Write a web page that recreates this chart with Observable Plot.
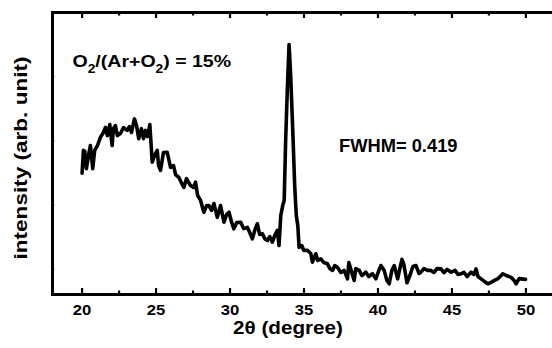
<!DOCTYPE html>
<html><head><meta charset="utf-8">
<script src="https://cdn.jsdelivr.net/npm/d3@7"></script>
<script src="https://cdn.jsdelivr.net/npm/@observablehq/plot@0.6"></script>
<style>body{margin:0;background:#fff} svg{display:block}</style>
</head><body><div id="chart"></div>
<script>
const twoTheta = [20.00,20.09,20.18,20.29,20.43,20.56,20.72,20.85,21.04,21.24,
21.44,21.58,21.71,21.87,22.03,22.12,22.25,22.39,22.59,22.80,
23.05,23.20,23.34,23.54,23.68,23.83,24.01,24.15,24.29,24.42,
24.58,24.74,24.90,25.08,25.17,25.30,25.50,25.75,25.98,26.18,
26.32,26.54,26.77,26.88,27.06,27.33,27.54,27.67,27.81,28.01,
28.23,28.42,28.57,28.75,28.91,29.14,29.36,29.59,29.77,29.93,
30.11,30.26,30.45,30.72,30.92,31.17,31.33,31.51,31.67,31.85,
32.00,32.19,32.34,32.53,32.68,32.86,33.02,33.20,33.31,33.43,
33.56,33.66,33.76,33.87,33.99,34.10,34.24,34.37,34.48,34.58,
34.67,34.85,34.98,35.23,35.46,35.57,35.80,35.93,36.13,36.34,
36.59,36.74,36.93,37.08,37.26,37.49,37.71,37.94,38.03,38.39,
38.50,38.73,38.91,39.18,39.38,39.63,39.86,40.06,40.20,40.42,
40.60,40.76,40.94,41.10,41.33,41.48,41.62,41.75,41.96,42.16,
42.36,42.57,42.77,42.90,43.11,43.36,43.58,43.79,43.99,44.26,
44.46,44.67,44.94,45.21,45.41,45.61,45.82,46.02,46.29,46.49,
46.63,46.76,46.97,47.17,47.42,47.60,47.87,48.12,48.44,48.66,
49.00,49.20,49.34,49.54,49.68,49.97];
const intensity = [373,462,459,391,442,481,391,462,481,513,
532,552,520,563,481,547,559,520,528,551,
540,555,532,585,559,508,547,508,540,516,
563,416,442,462,403,384,454,455,396,403,
368,357,329,318,352,325,317,338,286,267,
221,247,247,228,255,201,247,182,212,221,
181,156,181,182,157,162,142,117,150,176,
134,137,118,111,126,104,130,150,91,208,
247,267,501,696,875,754,540,325,208,169,
84,91,72,72,60,26,59,33,39,25,
20,1,-6,13,6,-14,-6,-39,25,-45,
1,-6,-26,-13,-30,-19,-39,-6,13,-6,
-45,-58,-6,13,-39,1,37,17,-54,-26,
9,13,-18,-13,1,-6,-6,-14,1,0,
-15,-2,-13,-6,-22,-19,-14,-30,-13,-22,
0,-30,-39,-48,-58,-54,-45,-38,-19,-26,
-33,-45,-58,-38,-39,-41];
const xMajorTicks = [20,25,30,35,40,45,50];
const xMinorTicks = [22.5,27.5,32.5,37.5,42.5,47.5];
const yTicks = [0,250,500,750];
const xDomain = [18,52];
const yDomain = [-100,1000];
const xLabel = "2θ (degree)";
const yLabel = "intensity (arb. unit)";
const fwhmText = "FWHM= 0.419";

const data = twoTheta.map((x,i)=>({x, y: intensity[i]}));
const unitsPerPx = (yDomain[1]-yDomain[0])/282;
const xUnitsPerPx = (xDomain[1]-xDomain[0])/503;
const font = "'Liberation Sans', Arial, sans-serif";

const plot = Plot.plot({
  width: 552, height: 348,
  marginLeft: 52, marginRight: -3, marginTop: 12, marginBottom: 54,
  x: {domain: xDomain},
  y: {domain: yDomain, axis: null},
  style: {fontFamily: font, background: "white", color: "black"},
  marks: [
    Plot.axisX(xMajorTicks, {anchor: "bottom", tickSize: 0, tickPadding: 10, fontSize: 15, fontWeight: "bold", label: null, fill: "black"}),
    Plot.ruleX(xMajorTicks, {y1: yDomain[0], y2: yDomain[0] + 6*unitsPerPx, strokeWidth: 2.2}),
    Plot.ruleX(xMajorTicks, {y1: yDomain[1], y2: yDomain[1] - 6*unitsPerPx, strokeWidth: 2.2}),
    Plot.ruleX(xMinorTicks, {y1: yDomain[0], y2: yDomain[0] + 3.5*unitsPerPx, strokeWidth: 2.2}),
    Plot.ruleX(xMinorTicks, {y1: yDomain[1], y2: yDomain[1] - 3.5*unitsPerPx, strokeWidth: 2.2}),
    Plot.ruleY(yTicks, {x1: xDomain[0], x2: xDomain[0] + 3*xUnitsPerPx, stroke: "#999", strokeWidth: 1}),
    Plot.line(data, {x: "x", y: "y", stroke: "black", strokeWidth: 3.6, strokeLinejoin: "round", strokeLinecap: "round"}),
    Plot.frame({stroke: "black", strokeWidth: 3})
  ]
});
document.getElementById("chart").append(plot);

const svg = d3.select(plot);
svg.selectAll('[aria-label="x-axis tick label"] text')
  .attr("textLength", 18.5).attr("lengthAdjust", "spacingAndGlyphs");
const bold = s => s.attr("font-family", font).attr("font-weight", "bold").attr("fill", "black");
svg.append("text").call(bold).attr("font-size", 18).attr("text-anchor", "middle")
  .attr("x", 288).attr("y", 334).attr("textLength", 110).attr("lengthAdjust", "spacingAndGlyphs").text(xLabel);
svg.append("text").call(bold).attr("font-size", 18).attr("text-anchor", "middle")
  .attr("transform", "translate(27,158) rotate(-90)").attr("textLength", 203).attr("lengthAdjust", "spacingAndGlyphs").text(yLabel);
const t = svg.append("text").call(bold).attr("font-size", 17).attr("text-anchor", "start")
  .attr("transform", "translate(72.5,66.5) scale(1.15,1)");
t.append("tspan").text("O");
t.append("tspan").attr("font-size", 12).attr("dy", 6).text("2");
t.append("tspan").attr("dy", -6).text("/(Ar+O");
t.append("tspan").attr("font-size", 12).attr("dy", 6).text("2");
t.append("tspan").attr("dy", -6).text(") = 15%");
svg.append("text").call(bold).attr("font-size", 17.5).attr("text-anchor", "start")
  .attr("x", 339).attr("y", 152).attr("textLength", 118.5).attr("lengthAdjust", "spacingAndGlyphs").text(fwhmText);
</script>
</body></html>
